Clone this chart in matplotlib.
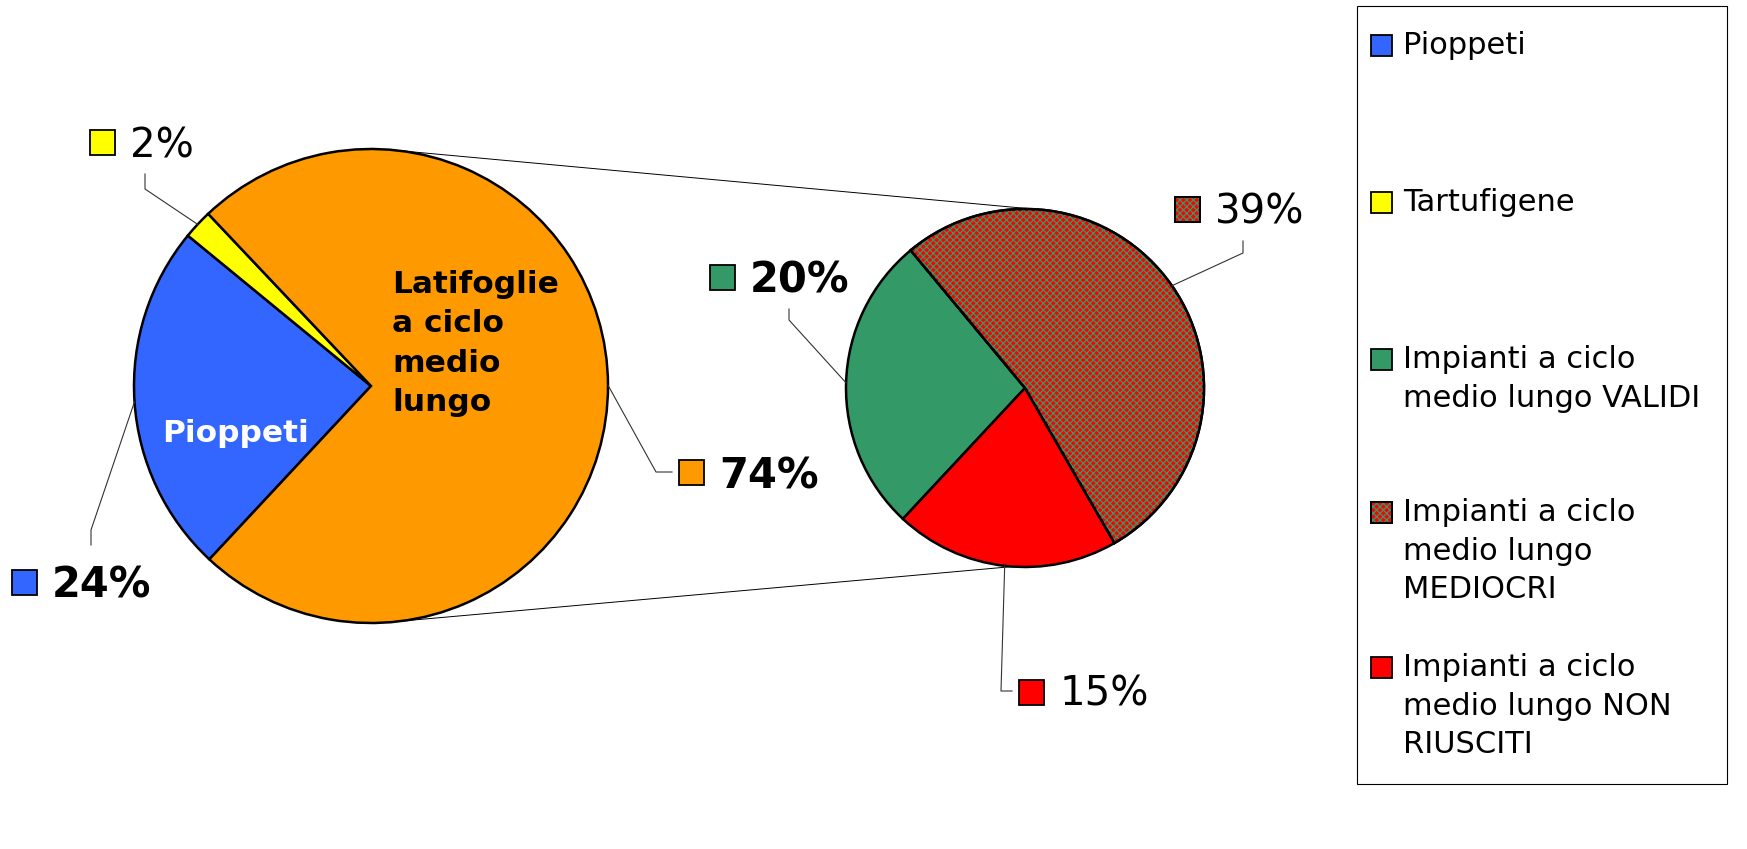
import numpy as np
import matplotlib.pyplot as plt
from matplotlib.patches import Rectangle, Wedge

W, H = 1747, 849

# data
main_labels = ['Pioppeti', 'Tartufigene', 'Latifoglie\na ciclo\nmedio\nlungo']
main_values = [24, 2, 74]
main_colors = ['#3366FF', '#FFFF00', '#FF9900']

sub_labels = ['VALIDI', 'MEDIOCRI', 'NON RIUSCITI']
sub_values = [20, 39, 15]
sub_colors = ['#339966', '#FF0000', '#FF0000']
hatch_green = '#339966'

legend_labels = ['Pioppeti', 'Tartufigene',
                 'Impianti a ciclo\nmedio lungo VALIDI',
                 'Impianti a ciclo\nmedio lungo\nMEDIOCRI',
                 'Impianti a ciclo\nmedio lungo NON\nRIUSCITI']

plt.rcParams['font.family'] = ['DejaVu Sans']
plt.rcParams['hatch.linewidth'] = 0.9
HATCH = 'xxxxx'


def yy(y):
    # pixel row (from top) -> data y
    return H - y


fig = plt.figure(figsize=(W / 100, H / 100), dpi=100)
ax = fig.add_axes([0, 0, 1, 1])

# main pie
c1, r1 = (371, yy(386)), 237
w1, _ = ax.pie(main_values, colors=main_colors, startangle=227, counterclock=False,
               center=c1, radius=r1, frame=True,
               wedgeprops=dict(edgecolor='black', linewidth=1.8))

# second pie (breakdown of Latifoglie)
c2, r2 = (1025, yy(388)), 179
w2, _ = ax.pie(sub_values, colors=sub_colors, startangle=227, counterclock=False,
               center=c2, radius=r2, frame=True,
               wedgeprops=dict(edgecolor='black', linewidth=1.8))
wm = w2[1]
ax.add_patch(Wedge(wm.center, wm.r, wm.theta1, wm.theta2, facecolor='none',
                   edgecolor=hatch_green, linewidth=0, hatch=HATCH, zorder=wm.get_zorder() + 0.01))
ax.add_patch(Wedge(wm.center, wm.r, wm.theta1, wm.theta2, facecolor='none',
                   edgecolor='black', linewidth=1.8, zorder=wm.get_zorder() + 0.02))


def on_circle(c, r, ang):
    a = np.deg2rad(ang)
    return c[0] + r * np.cos(a), c[1] + r * np.sin(a)


# connector lines between the pies
for a1, a2 in [(83.5, 86.5), (-83, -94)]:
    p1 = on_circle(c1, r1, a1)
    p2 = on_circle(c2, r2, a2)
    ax.plot([p1[0], p2[0]], [p1[1], p2[1]], color='black', lw=0.7, zorder=0)

# labels inside the main pie
ax.text(162, yy(442), main_labels[0], color='white', fontsize=22.5, fontweight='bold',
        ha='left', va='baseline')
ax.text(392, yy(270), main_labels[2], color='black', fontsize=22.5, fontweight='bold',
        ha='left', va='top', linespacing=1.45)


def mid_angle(w):
    return (w.theta1 + w.theta2) / 2


def square(x, y, size, color, hatched=False):
    ax.add_patch(Rectangle((x - size / 2, yy(y) - size / 2), size, size, facecolor=color,
                           edgecolor='black', linewidth=1.3, zorder=5))
    if hatched:
        ax.add_patch(Rectangle((x - size / 2, yy(y) - size / 2), size, size, facecolor='none',
                               edgecolor=hatch_green, linewidth=0, hatch=HATCH, zorder=5.1))
        ax.add_patch(Rectangle((x - size / 2, yy(y) - size / 2), size, size, facecolor='none',
                               edgecolor='black', linewidth=1.3, zorder=5.2))


# percentage labels: (wedge, value, colour, hatched, square centre, text x, baseline, bold, leader elbow)
pct_labels = [
    (w1[1], main_values[1], main_colors[1], False, (102.5, 142.5), 130, 157, False, [(145, 174), (145, 189)]),
    (w1[0], main_values[0], main_colors[0], False, (24.5, 582), 52, 597, True, [(91, 545), (91, 530)]),
    (w1[2], main_values[2], main_colors[2], False, (692, 472), 719, 488, True, [(672, 472), (656, 472)]),
    (w2[0], sub_values[0], sub_colors[0], False, (722.5, 277.5), 750, 292, True, [(789, 309), (789, 320)]),
    (w2[1], sub_values[1], sub_colors[1], True, (1187.5, 209), 1215, 223, False, [(1243, 241), (1243, 253)]),
    (w2[2], sub_values[2], sub_colors[2], False, (1032, 692), 1060, 706, False, [(1012, 691), (1001, 691)]),
]
for w, v, col, hat, sq, tx, base, bold, elbow in pct_labels:
    square(sq[0], sq[1], 25, col, hat)
    ax.text(tx, yy(base), f'{v}%', fontsize=30 if bold else 29,
            fontweight='bold' if bold else 'normal',
            ha='left', va='baseline', zorder=6)
    px, py = on_circle(w.center, w.r, mid_angle(w))
    xs = [p[0] for p in elbow] + [px]
    ys = [yy(p[1]) for p in elbow] + [py]
    ax.plot(xs, ys, color='#333333', lw=0.8, zorder=4)

# legend box
ax.add_patch(Rectangle((1357, yy(784)), 370, 778, facecolor='white', edgecolor='black',
                       linewidth=0.8, zorder=3))
leg_colors = [main_colors[0], main_colors[1], sub_colors[0], sub_colors[1], sub_colors[2]]
leg_hatch = [False, False, False, True, False]
leg_tops = [33, 190, 347, 500, 655]
for lab, col, hat, top in zip(legend_labels, leg_colors, leg_hatch, leg_tops):
    square(1381.5, top + 12, 21, col, hat)
    ax.text(1403, yy(top - 2), lab, fontsize=22, ha='left', va='top', linespacing=1.42, zorder=6)

ax.set_xlim(0, W)
ax.set_ylim(0, H)
ax.set_aspect('equal')
ax.axis('off')

fig.savefig('out.png', dpi=100, facecolor='white')
